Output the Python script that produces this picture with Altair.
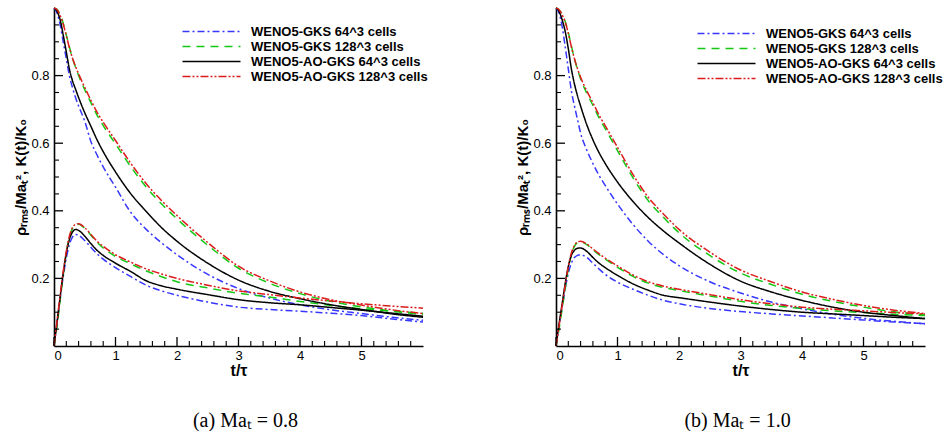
import altair as alt
import pandas as pd

# ---------------- data ----------------
T = [0, 0.05, 0.1, 0.15, 0.2, 0.25, 0.3, 0.35, 0.4, 0.5, 0.6, 0.7, 0.8, 1.0,
     1.25, 1.5, 1.75, 2.0, 2.5, 3.0, 3.5, 4.0, 4.5, 5.0, 5.5, 6.0]

SERIES = ["WENO5-GKS 64^3 cells", "WENO5-GKS 128^3 cells",
          "WENO5-AO-GKS 64^3 cells", "WENO5-AO-GKS 128^3 cells"]

# Ma_t = 0.8 : K(t)/K0
K08_blue = [1.0, 0.985, 0.95, 0.9, 0.85, 0.8, 0.765, 0.735, 0.71, 0.665, 0.605, 0.565, 0.53, 0.47,
            0.395, 0.345, 0.305, 0.27, 0.212, 0.17, 0.142, 0.122, 0.107, 0.096, 0.085, 0.076]
K08_green = [1.0, 0.996, 0.98, 0.955, 0.92, 0.885, 0.852, 0.825, 0.8, 0.758, 0.72, 0.683, 0.652, 0.598,
             0.53, 0.47, 0.42, 0.376, 0.298, 0.23, 0.186, 0.155, 0.132, 0.116, 0.103, 0.093]
K08_black = [1.0, 0.99, 0.965, 0.92, 0.87, 0.82, 0.785, 0.76, 0.735, 0.69, 0.65, 0.61, 0.575, 0.515,
             0.45, 0.398, 0.35, 0.31, 0.245, 0.195, 0.162, 0.14, 0.122, 0.108, 0.095, 0.085]
K08_red = [1.0, 0.995, 0.978, 0.952, 0.918, 0.883, 0.852, 0.827, 0.805, 0.765, 0.727, 0.692, 0.662, 0.608,
           0.54, 0.48, 0.43, 0.386, 0.306, 0.236, 0.193, 0.16, 0.137, 0.121, 0.107, 0.096]
# Ma_t = 0.8 : rho_rms / Ma_t^2
R08_blue = [0, 0.07, 0.14, 0.205, 0.26, 0.3, 0.322, 0.33, 0.328, 0.312, 0.292, 0.273, 0.257, 0.232,
            0.205, 0.18, 0.163, 0.15, 0.13, 0.115, 0.108, 0.103, 0.097, 0.09, 0.08, 0.071]
R08_green = [0, 0.06, 0.135, 0.21, 0.275, 0.32, 0.348, 0.358, 0.36, 0.348, 0.328, 0.307, 0.29, 0.265,
             0.243, 0.222, 0.205, 0.19, 0.172, 0.156, 0.145, 0.132, 0.12, 0.11, 0.103, 0.097]
R08_black = [0, 0.07, 0.145, 0.215, 0.275, 0.315, 0.337, 0.345, 0.342, 0.325, 0.303, 0.283, 0.268, 0.245,
             0.22, 0.193, 0.178, 0.168, 0.152, 0.137, 0.128, 0.122, 0.114, 0.106, 0.097, 0.088]
R08_red = [0, 0.075, 0.15, 0.22, 0.28, 0.325, 0.35, 0.36, 0.362, 0.35, 0.33, 0.31, 0.295, 0.27,
           0.248, 0.228, 0.213, 0.2, 0.18, 0.163, 0.152, 0.142, 0.133, 0.125, 0.118, 0.112]

# Ma_t = 1.0 : K(t)/K0
K10_blue = [1.0, 0.985, 0.945, 0.885, 0.82, 0.755, 0.71, 0.67, 0.63, 0.58, 0.54, 0.505, 0.475, 0.42,
            0.36, 0.31, 0.27, 0.238, 0.19, 0.157, 0.13, 0.11, 0.094, 0.082, 0.073, 0.066]
K10_green = [1.0, 0.995, 0.982, 0.96, 0.928, 0.888, 0.85, 0.818, 0.79, 0.748, 0.712, 0.675, 0.643, 0.578,
             0.498, 0.43, 0.38, 0.335, 0.268, 0.216, 0.182, 0.153, 0.132, 0.115, 0.101, 0.092]
K10_black = [1.0, 0.99, 0.965, 0.93, 0.88, 0.82, 0.775, 0.74, 0.71, 0.655, 0.61, 0.572, 0.54, 0.485,
             0.428, 0.38, 0.34, 0.305, 0.242, 0.192, 0.16, 0.135, 0.115, 0.1, 0.09, 0.081]
K10_red = [1.0, 0.995, 0.98, 0.958, 0.925, 0.885, 0.85, 0.82, 0.795, 0.755, 0.72, 0.683, 0.652, 0.588,
           0.508, 0.44, 0.39, 0.345, 0.278, 0.225, 0.19, 0.16, 0.138, 0.12, 0.106, 0.096]
# Ma_t = 1.0 : rho_rms / Ma_t^2
R10_blue = [0, 0.06, 0.115, 0.17, 0.215, 0.245, 0.262, 0.268, 0.27, 0.262, 0.245, 0.228, 0.212, 0.189,
            0.168, 0.15, 0.135, 0.125, 0.111, 0.102, 0.095, 0.089, 0.083, 0.077, 0.071, 0.066]
R10_green = [0, 0.05, 0.11, 0.17, 0.228, 0.27, 0.295, 0.306, 0.308, 0.3, 0.285, 0.27, 0.257, 0.233,
             0.206, 0.186, 0.173, 0.164, 0.148, 0.132, 0.12, 0.111, 0.104, 0.099, 0.094, 0.09]
R10_black = [0, 0.065, 0.125, 0.185, 0.235, 0.268, 0.283, 0.289, 0.29, 0.28, 0.262, 0.245, 0.232, 0.209,
             0.184, 0.165, 0.15, 0.143, 0.13, 0.118, 0.108, 0.1, 0.095, 0.09, 0.085, 0.081]
R10_red = [0, 0.06, 0.12, 0.18, 0.235, 0.275, 0.298, 0.308, 0.31, 0.302, 0.287, 0.273, 0.26, 0.237,
           0.21, 0.19, 0.177, 0.168, 0.152, 0.137, 0.125, 0.115, 0.109, 0.104, 0.099, 0.095]

X_MAJOR = [0, 1, 2, 3, 4, 5]
X_MINOR = [0.2, 0.4, 0.6, 0.8, 1.2, 1.4, 1.6, 1.8, 2.2, 2.4, 2.6, 2.8, 3.2, 3.4, 3.6, 3.8,
           4.2, 4.4, 4.6, 4.8, 5.2, 5.4, 5.6, 5.8]
Y_MAJOR = [0.2, 0.4, 0.6, 0.8]
Y_MINOR = [0.05, 0.1, 0.15, 0.25, 0.3, 0.35, 0.45, 0.5, 0.55, 0.65, 0.7, 0.75, 0.85, 0.9, 0.95]

CAPTIONS = ["(a)  Maₜ = 0.8", "(b)  Maₜ = 1.0"]

# ---------------- styles ----------------
COLORS = ["#3737ff", "#14c814", "#000000", "#dc1c1c"]
DASHES = [[7, 3, 2, 3], [8, 6], [1, 0], [8, 2, 2, 2, 2, 2]]
W, H = 369, 338
FONT = "Liberation Sans"


def build_df(k_lists, r_lists):
    rows = []
    for s, k, r in zip(SERIES, k_lists, r_lists):
        for t, v in zip(T, k):
            rows.append({"t": t, "v": v, "series": s, "qty": "K"})
        for t, v in zip(T, r):
            rows.append({"t": t, "v": v, "series": s, "qty": "rho"})
    return pd.DataFrame(rows)


def panel(df, caption, lx, ly, cdx):
    xs = alt.Scale(domain=[0, 6], nice=False, zero=False)
    ys = alt.Scale(domain=[0, 1], nice=False, zero=False)
    xax = alt.Axis(title="t/τ", values=X_MAJOR, format="d", tickSize=0,
                   labelPadding=3, titlePadding=0, titleFontSize=16)
    yax = alt.Axis(title="ρᵣₘₛ/Maₜ², K(t)/K₀", values=Y_MAJOR, format=".1f",
                   tickSize=0, labelPadding=5, titlePadding=2, titleFontSize=15)
    leg = alt.Legend(title=None, orient="none", legendX=lx, legendY=ly,
                     symbolType="M-4.3,0H4.3", symbolSize=182, symbolStrokeWidth=1.5,
                     symbolFillColor="transparent",
                     labelFont=FONT, labelFontSize=13, labelFontWeight="bold",
                     labelColor="black", labelOffset=32, rowPadding=0,
                     labelLimit=400, padding=0)
    lines = alt.Chart(df).mark_line(strokeWidth=1.5, interpolate="monotone").encode(
        x=alt.X("t:Q", scale=xs, axis=xax),
        y=alt.Y("v:Q", scale=ys, axis=yax),
        color=alt.Color("series:N", scale=alt.Scale(domain=SERIES, range=COLORS), legend=leg),
        strokeDash=alt.StrokeDash("series:N", scale=alt.Scale(domain=SERIES, range=DASHES), legend=leg),
        detail="qty:N",
    )
    xmaj = alt.Chart(pd.DataFrame({"t": X_MAJOR})).mark_rule(color="black", strokeWidth=1.3).encode(
        x=alt.X("t:Q", scale=xs, axis=xax), y=alt.value(H), y2=alt.value(H - 9))
    xmin = alt.Chart(pd.DataFrame({"t": X_MINOR})).mark_rule(color="black", strokeWidth=1.1).encode(
        x=alt.X("t:Q", scale=xs, axis=xax), y=alt.value(H), y2=alt.value(H - 5))
    ymaj = alt.Chart(pd.DataFrame({"v": Y_MAJOR})).mark_rule(color="black", strokeWidth=1.3).encode(
        y=alt.Y("v:Q", scale=ys, axis=yax), x=alt.value(0), x2=alt.value(9))
    ymin = alt.Chart(pd.DataFrame({"v": Y_MINOR})).mark_rule(color="black", strokeWidth=1.1).encode(
        y=alt.Y("v:Q", scale=ys, axis=yax), x=alt.value(0), x2=alt.value(5))
    return alt.layer(lines, xmaj, xmin, ymaj, ymin).properties(
        width=W, height=H,
        title=alt.TitleParams(caption, orient="bottom", font="Liberation Serif", fontSize=20,
                              fontWeight="normal", color="black", offset=33, anchor="middle",
                              frame="group", dx=cdx))


left = panel(build_df([K08_blue, K08_green, K08_black, K08_red],
                      [R08_blue, R08_green, R08_black, R08_red]), CAPTIONS[0], 150, 16, 7)
right = panel(build_df([K10_blue, K10_green, K10_black, K10_red],
                       [R10_blue, R10_green, R10_black, R10_red]), CAPTIONS[1], 163, 18, -3)

chart = alt.hconcat(left, right, spacing=87).resolve_scale(
    color="independent", strokeDash="independent", x="independent", y="independent"
).properties(
    padding={"left": 13, "top": 5, "right": 0, "bottom": 0}
).configure_view(stroke=None).configure_axis(
    domainColor="black", domainWidth=1.6, grid=False,
    labelFont=FONT, labelFontSize=13, labelColor="black",
    titleFont=FONT, titleFontSize=14, titleFontWeight="bold", titleColor="black",
)

chart.save("out.html", embed_options={"renderer": "svg", "actions": False})
